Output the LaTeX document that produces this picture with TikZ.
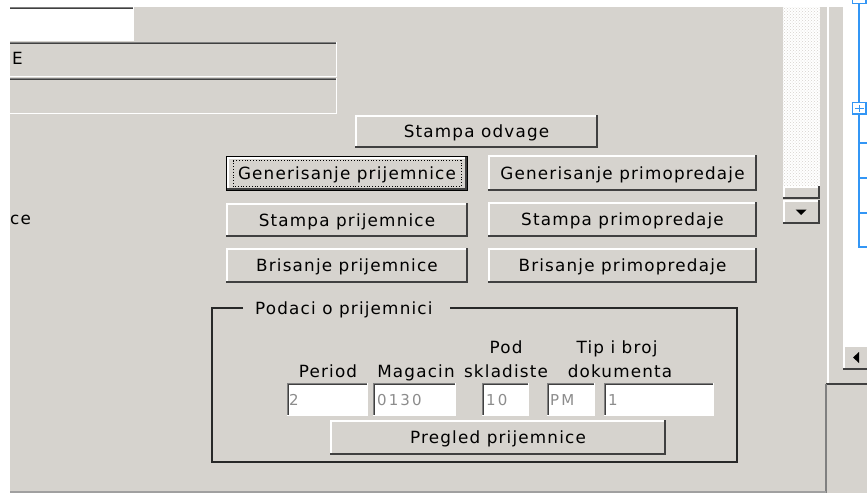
\documentclass[tikz,border=0pt]{standalone}
\usepackage{fontspec}
\usetikzlibrary{patterns}
\newfontfamily\uifont{DejaVu Sans}[LetterSpace=7]
\newfontfamily\fieldfont{DejaVu Sans}[LetterSpace=14]
\definecolor{face}{RGB}{214,211,206}
\definecolor{dark}{RGB}{64,64,64}
\definecolor{shadow}{RGB}{128,128,128}
\definecolor{treeblue}{RGB}{51,150,245}
\definecolor{fieldtxt}{RGB}{140,140,140}
\definecolor{bottomline}{RGB}{160,160,160}
\definecolor{framecol}{RGB}{40,40,40}
\newcommand\raisedbox[4]{%
  \fill[face] (#1,#2) rectangle (#3,#4);
  \draw[white,line width=1.5pt] (#1+0.75,#4) -- (#1+0.75,#2+0.75) -- (#3,#2+0.75);
  \draw[dark,line width=2pt] (#1,#4-1) -- (#3-1,#4-1) -- (#3-1,#2);
}
\newcommand\sunkenbox[5]{%
  \fill[#5] (#1,#2) rectangle (#3,#4);
  \draw[shadow,line width=1pt] (#1+0.5,#4) -- (#1+0.5,#2+0.5) -- (#3,#2+0.5);
  \draw[dark,line width=1pt] (#1+1.5,#4-1) -- (#1+1.5,#2+1.5) -- (#3-1,#2+1.5);
  \draw[white,line width=1pt] (#1,#4-0.5) -- (#3-0.5,#4-0.5) -- (#3-0.5,#2);
}
\tikzset{
  lbl/.style={inner sep=0pt,anchor=base,font=\uifont\fontsize{16.8}{19}\selectfont,text=black},
  ftxt/.style={inner sep=0pt,anchor=base west,font=\fieldfont\fontsize{15}{18}\selectfont,text=fieldtxt},
}
\begin{document}
\begin{tikzpicture}[x=1pt,y=-1pt]
\useasboundingbox (0,0) rectangle (867,493);
\fill[white] (0,0) rectangle (867,493);
\begin{scope}
\clip (10,7) rectangle (867,493);
\fill[face] (10,7) rectangle (867,493);
\fill[white] (843,0) rectangle (867,345);

% top-left fields
\sunkenbox{0}{7}{134}{41}{white}
\sunkenbox{0}{42}{337}{77}{face}
\node[lbl,anchor=base west] (e) at (12,64) {E};
\sunkenbox{0}{78}{337}{114}{face}
\node[lbl,anchor=base west] (ce) at (10,224) {ce};

% buttons
\raisedbox{355}{115}{598}{148}
\node[lbl] (odv) at (476.5,137.5) {Stampa odvage};

\raisedbox{227}{157}{467}{190}
\draw[black,line width=1pt] (226.5,156.5) rectangle (467.5,190.5);
\draw[black,line width=0.8pt,dotted] (233,160.5) rectangle (461,186.5);
\node[lbl] (genp) at (347,179.5) {Generisanje prijemnice};

\raisedbox{226}{203}{468}{237}
\node[lbl] (stp) at (347,226) {Stampa prijemnice};
\raisedbox{226}{248}{468}{283}
\node[lbl] (brp) at (347,271.5) {Brisanje prijemnice};

\raisedbox{488}{155}{757}{191}
\node[lbl] (genm) at (622.5,179) {Generisanje primopredaje};
\raisedbox{488}{202}{757}{237}
\node[lbl] (stm) at (622.5,225.5) {Stampa primopredaje};
\raisedbox{488}{248}{757}{283}
\node[lbl] (brm) at (622.5,271.5) {Brisanje primopredaje};

% scrollbar
\fill[white] (783,7) rectangle (820,186);
\fill[pattern=crosshatch dots,pattern color=face] (783,7) rectangle (820,186);
\raisedbox{783}{186}{820}{199}
\raisedbox{783}{200}{820}{224}
\fill[black] (795.5,209.5) -- (806.5,209.5) -- (801,215) -- cycle;

% separators on the right
\draw[white,line width=1.2pt] (828,7) -- (828,384);
\draw[dark,line width=1.5pt] (826,384) -- (867,384);
\draw[shadow,line width=1.5pt] (826,384) -- (826,493);
\draw[bottomline,line width=2pt] (10,492) -- (826,492);

% horizontal scroll button
\raisedbox{843}{345}{870}{370}
\fill[black] (853,357.5) -- (859,352) -- (859,363) -- cycle;

% group frame
\draw[framecol,line width=1.5pt] (243,308) -- (212,308) -- (212,462) -- (737,462) -- (737,308) -- (450,308);
\node[lbl,anchor=base west] (grp) at (255,314) {Podaci o prijemnici};

\node[lbl] (per) at (328,377) {Period};
\node[lbl] (mag) at (416,377) {Magacin};
\node[lbl] (pod) at (506,353) {Pod};
\node[lbl] (skl) at (506,377) {skladiste};
\node[lbl] (tip) at (617,353) {Tip i broj};
\node[lbl] (dok) at (620,377) {dokumenta};

\sunkenbox{287}{383}{368}{416}{white}
\node[ftxt] (f1) at (289,405) {2};
\sunkenbox{373}{383}{456}{416}{white}
\node[ftxt] (f2) at (377,405) {0130};
\sunkenbox{482}{383}{529}{416}{white}
\node[ftxt] (f3) at (486,405) {10};
\sunkenbox{547}{383}{595}{416}{white}
\node[ftxt] (f4) at (550,405) {PM};
\sunkenbox{604}{383}{714}{416}{white}
\node[ftxt] (f5) at (608,405) {1};

\raisedbox{330}{420}{666}{455}
\node[lbl] (preg) at (498,443.5) {Pregled prijemnice};
\end{scope}

% tree
\draw[treeblue,line width=1.3pt] (859,0) -- (859,247) -- (867,247);
\foreach \yy in {143,178,213} \draw[treeblue,line width=1.3pt] (859,\yy) -- (867,\yy);
\draw[treeblue,line width=1.2pt,fill=white] (852.5,-8) rectangle (866,3.5);
\draw[treeblue,line width=1.2pt,fill=white] (852.5,102.5) rectangle (866,114);
\draw[treeblue,line width=1.4pt] (855,108.3) -- (863.5,108.3) (859.2,104.5) -- (859.2,112);
\end{tikzpicture}
\end{document}
